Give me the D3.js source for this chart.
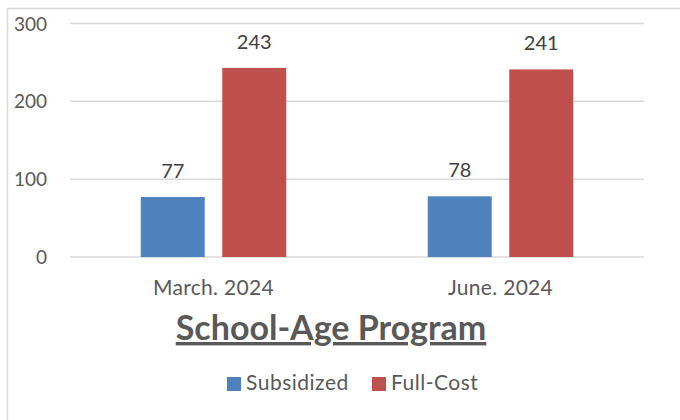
<!DOCTYPE html>
<html>
<head>
<meta charset="utf-8">
<script src="https://cdn.jsdelivr.net/npm/d3@7"></script>
<style>
  body { margin: 0; background: #fff; }
  svg text { font-family: Lato, "Open Sans", sans-serif; }
</style>
</head>
<body>
<div id="chart"></div>
<script>
// chart data
var categories = ["March. 2024", "June. 2024"];
var seriesNames = ["Subsidized", "Full-Cost"];
var subsidized = [77, 78];
var fullCost = [243, 241];
var yTicks = [0, 100, 200, 300];
var colors = ["#4F81BD", "#C0504D"];

var width = 680, height = 420;
var svg = d3.select("#chart").append("svg")
    .attr("width", width)
    .attr("height", height);

//outer chart frame (runs off the right and bottom edge)
svg.append("rect")
    .attr("x", 7.5).attr("y", 8.5)
    .attr("width", 700).attr("height", 440)
    .attr("fill", "none")
    .attr("stroke", "#D9D9D9")
    .attr("stroke-width", 1.5);

var plot = { left: 70, right: 644, top: 23.5, bottom: 257 };

var y = d3.scaleLinear().domain([0, 300]).range([plot.bottom, plot.top]);
var x0 = d3.scaleBand().domain(categories).range([plot.left, plot.right]);
var x1 = d3.scaleBand().domain(seriesNames)
    .range([70.75, x0.bandwidth() - 70.75])
    .paddingInner(0.215);

//gridlines
svg.append("g").selectAll("line")
    .data(yTicks)
    .enter().append("line")
    .attr("x1", plot.left).attr("x2", plot.right)
    .attr("y1", function (d) { return y(d); })
    .attr("y2", function (d) { return y(d); })
    .attr("stroke", "#D9D9D9")
    .attr("stroke-width", 1.5);

//y tick labels
svg.append("g").selectAll("text")
    .data(yTicks)
    .enter().append("text")
    .attr("x", 47)
    .attr("y", function (d) { return y(d) + 7; })
    .attr("text-anchor", "end")
    .attr("fill", "#595959")
    .style("font-size", "19px")
    .text(function (d) { return d; });

var rows = categories.map(function (c, i) {
    return { cat: c, values: [subsidized[i], fullCost[i]] };
});

var groups = svg.append("g").selectAll("g")
    .data(rows)
    .enter().append("g")
    .attr("transform", function (d) { return "translate(" + x0(d.cat) + ",0)"; });

var bars = groups.selectAll("g")
    .data(function (d) {
        return d.values.map(function (v, j) { return { key: seriesNames[j], value: v, i: j }; });
    })
    .enter().append("g");

bars.append("rect")
    .attr("x", function (d) { return x1(d.key); })
    .attr("y", function (d) { return y(d.value); })
    .attr("width", x1.bandwidth())
    .attr("height", function (d) { return y(0) - y(d.value); })
    .attr("fill", function (d) { return colors[d.i]; });

//data labels
bars.append("text")
    .attr("x", function (d) { return x1(d.key) + x1.bandwidth() / 2; })
    .attr("y", function (d) { return y(d.value) - 19; })
    .attr("text-anchor", "middle")
    .attr("fill", "#404040")
    .style("font-size", "20px")
    .text(function (d) { return d.value; });

//category labels
svg.append("g").selectAll("text")
    .data(categories)
    .enter().append("text")
    .attr("x", function (d) { return x0(d) + x0.bandwidth() / 2; })
    .attr("y", 295)
    .attr("text-anchor", "middle")
    .attr("fill", "#595959")
    .style("font-size", "21px")
    .style("letter-spacing", "0.3px")
    .text(function (d) { return d; });

//title
svg.append("text")
    .attr("x", 331)
    .attr("y", 340)
    .attr("text-anchor", "middle")
    .attr("fill", "#595959")
    .style("font-size", "34px")
    .style("font-weight", "bold")
    .style("text-decoration", "underline")
    .text("School-Age Program");

//legend
var legendX = [227, 372];
var legend = svg.append("g").selectAll("g")
    .data(seriesNames)
    .enter().append("g")
    .attr("transform", function (d, i) { return "translate(" + legendX[i] + ",377)"; });

legend.append("rect")
    .attr("width", 14).attr("height", 14)
    .attr("fill", function (d, i) { return colors[i]; });

legend.append("text")
    .attr("x", 19)
    .attr("y", 13)
    .attr("fill", "#595959")
    .style("font-size", "21px")
    .style("letter-spacing", "0.5px")
    .text(function (d) { return d; });
</script>
</body>
</html>
